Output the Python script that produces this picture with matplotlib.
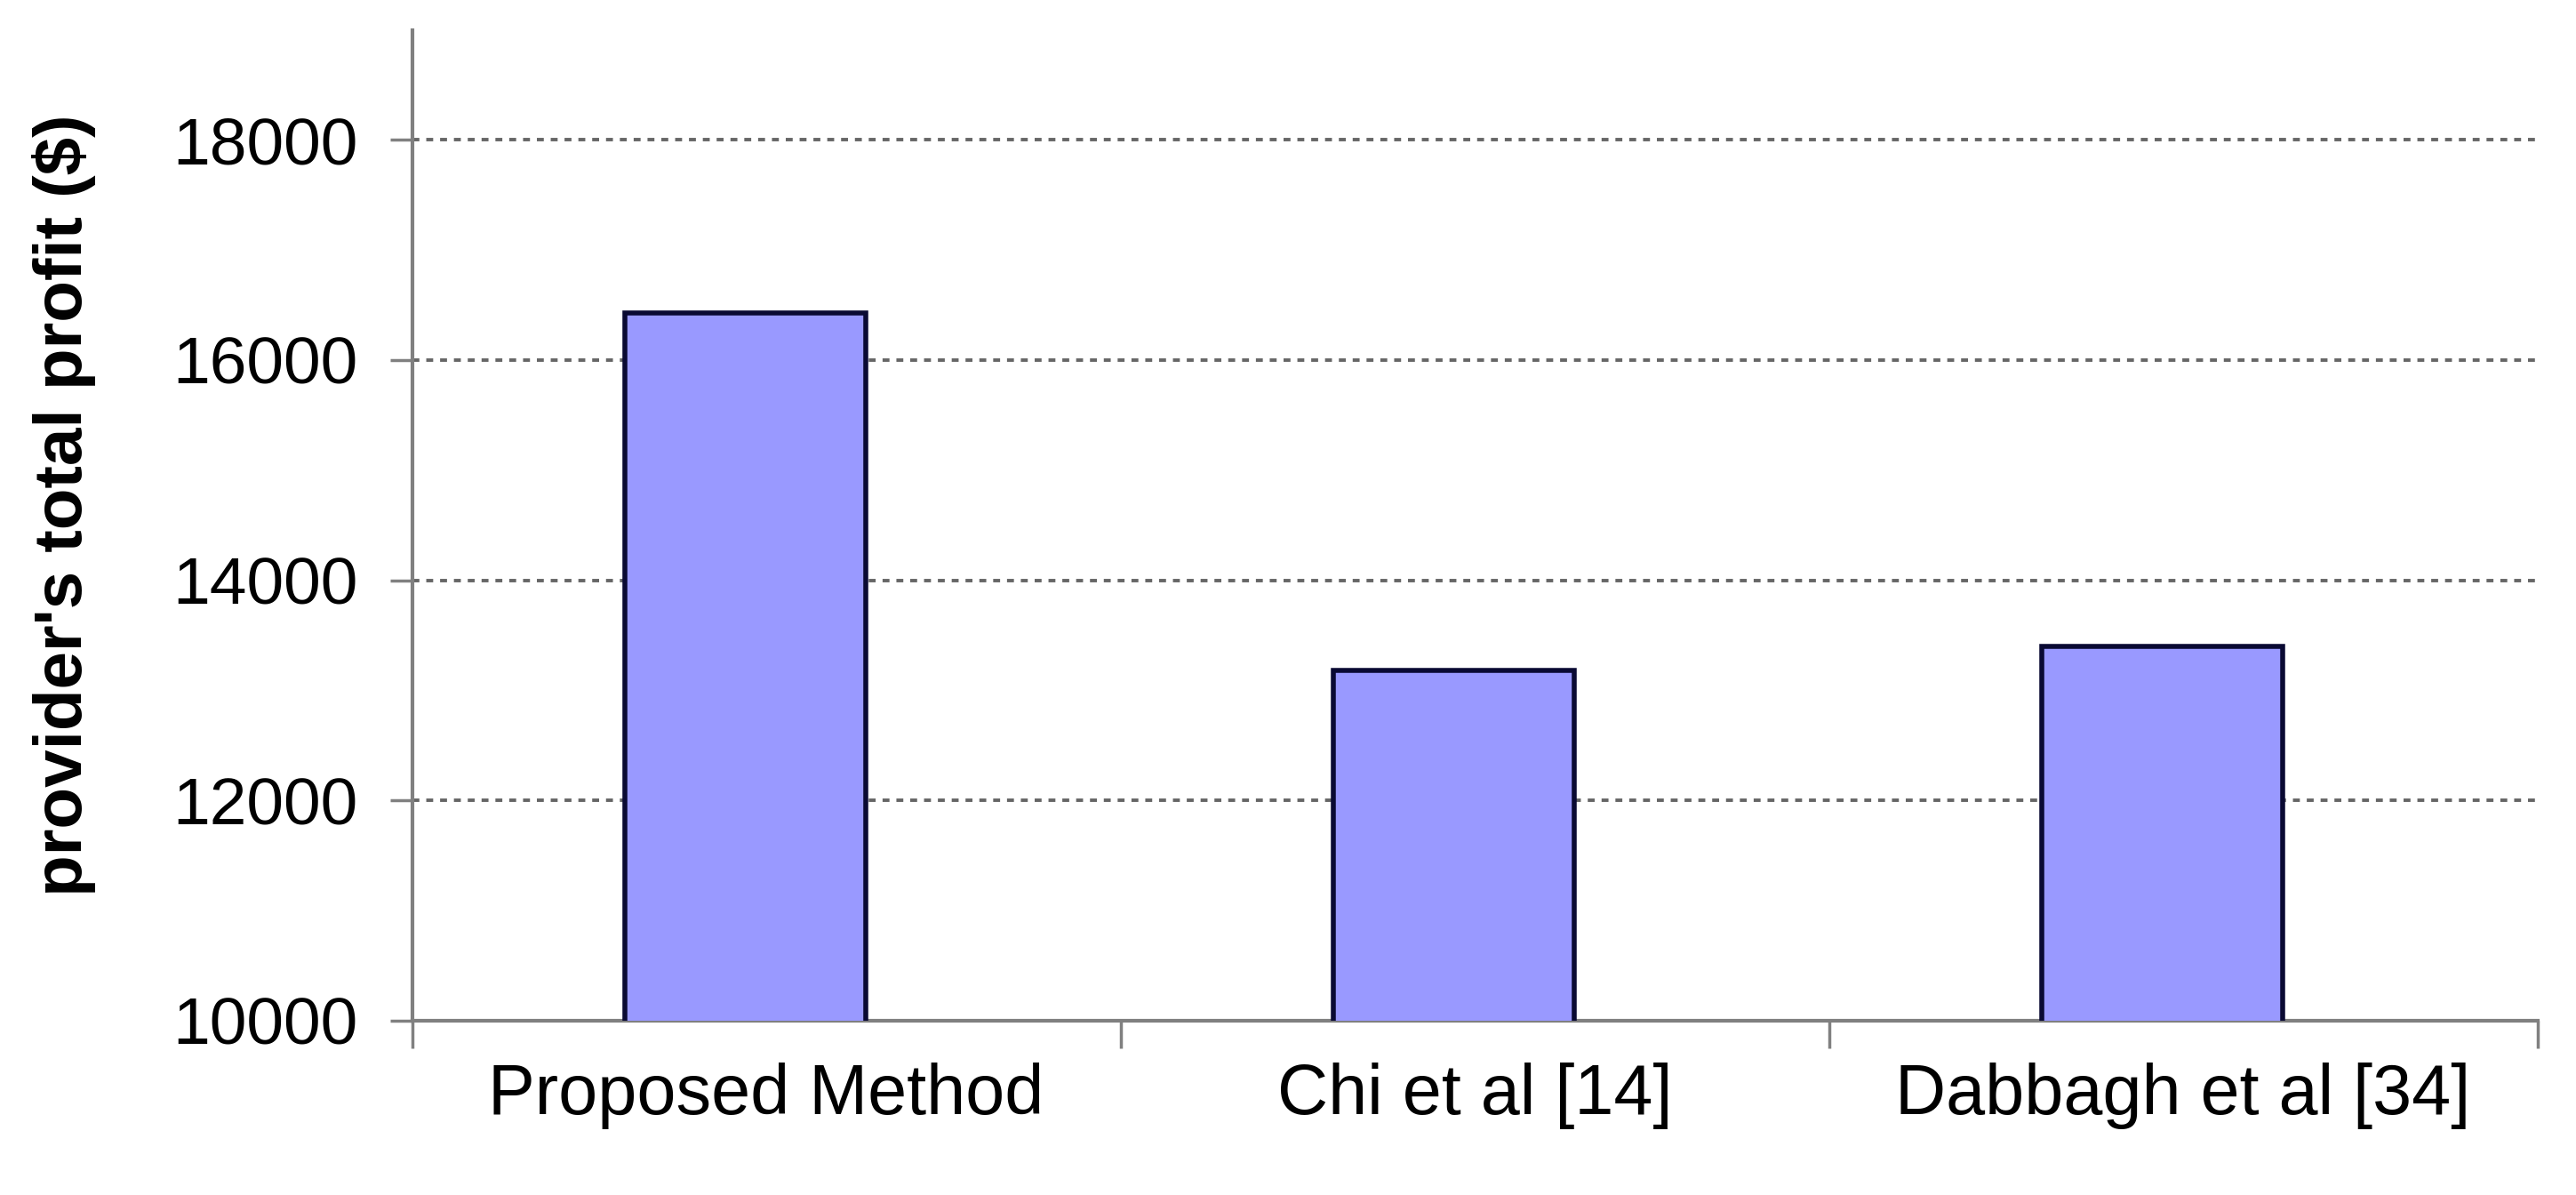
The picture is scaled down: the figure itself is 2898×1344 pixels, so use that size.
import matplotlib.pyplot as plt
import numpy as np

plt.rcParams["font.family"] = ["Liberation Sans", "DejaVu Sans"]

methods = ["Proposed Method", "Chi et al [14]", "Dabbagh et al [34]"]
profit = [16430, 13180, 13400]
y_ticks = [10000, 12000, 14000, 16000, 18000]

fig = plt.figure(figsize=(28.98, 13.44), dpi=100)
ax = fig.add_axes([0.160, 0.146, 0.825, 0.829])

x = np.arange(len(methods))
ax.bar(x - 0.03, profit, width=0.34, bottom=0, color="#9999FF",
       edgecolor="#0A0A33", linewidth=4, zorder=3)

ax.set_xlim(-0.5, len(methods) - 0.5)
ax.set_ylim(10000, 19000)
ax.set_yticks(y_ticks)
ax.set_yticklabels([str(v) for v in y_ticks], fontsize=54)

# tick marks at category boundaries, labels at centres
ax.set_xticks(np.arange(len(methods) + 1) - 0.5)
ax.set_xticklabels([])
ax.set_xticks(x, minor=True)
ax.set_xticklabels(methods, minor=True, fontsize=57)
ax.tick_params(axis="x", which="minor", length=0, pad=34)
ax.tick_params(axis="x", which="major", length=22, width=2.5, color="#808080")
ax.tick_params(axis="y", length=18, width=2.5, color="#808080", pad=26)

for v in y_ticks[1:]:
    ax.axhline(v, color="#666666", linestyle=(0, (2, 2)), linewidth=2.8, zorder=1)

for side in ["top", "right"]:
    ax.spines[side].set_visible(False)
for side in ["left", "bottom"]:
    ax.spines[side].set_color("#808080")
    ax.spines[side].set_linewidth(3)

ax.set_ylabel("provider's total profit ($)", fontsize=55, fontweight="bold",
              labelpad=62, y=0.52)

fig.savefig("out.png", dpi=100)
